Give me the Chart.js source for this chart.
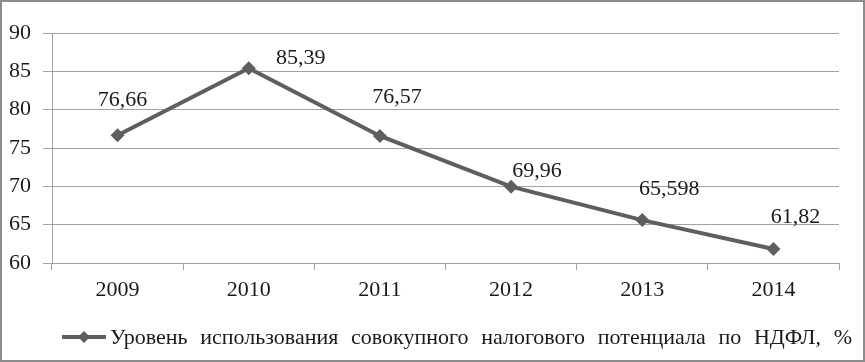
<!DOCTYPE html>
<html>
<head>
<meta charset="utf-8">
<script src="https://cdn.jsdelivr.net/npm/chart.js@4.4.1/dist/chart.umd.min.js"></script>
<style>
  html, body { margin: 0; padding: 0; background: #fff; }
  #wrap { width: 865px; height: 362px; position: relative; }
</style>
</head>
<body>
<div id="wrap"><canvas id="chart" width="865" height="362"></canvas></div>
<script>
// ── Data ────────────────────────────────────────────────────
const YEARS  = ['2009', '2010', '2011', '2012', '2013', '2014'];
const VALUES = [76.66, 85.39, 76.57, 69.96, 65.598, 61.82];
const LABELS = ['76,66', '85,39', '76,57', '69,96', '65,598', '61,82'];
const SERIES_NAME = 'Уровень использования совокупного налогового потенциала по НДФЛ, %';

const FONT = "'Liberation Serif', 'Times New Roman', serif";
const LINE_COLOR = '#5e5e5e';
const GRID_COLOR = '#a3a3a3';

// label offsets from each point (manually placed in the original)
const LABEL_OFFSETS = [[5, -35], [52, -10], [17, -39], [26, -15], [27, -31], [22, -32]];

const valueLabels = {
    id: 'valueLabels',
    afterDatasetsDraw(chart) {
        const ctx = chart.ctx;
        const meta = chart.getDatasetMeta(0);
        ctx.save();
        ctx.font = '22px ' + FONT;
        ctx.fillStyle = '#1a1a1a';
        ctx.textAlign = 'center';
        ctx.textBaseline = 'middle';
        meta.data.forEach((pt, i) => {
            const off = LABEL_OFFSETS[i] || [0, -20];
            ctx.fillText(LABELS[i], pt.x + off[0], pt.y + off[1]);
        });
        ctx.restore();
    }
};

const frameAndLegend = {
    id: 'frameAndLegend',
    afterDraw(chart) {
        const ctx = chart.ctx;
        ctx.save();
        // outer frame
        ctx.strokeStyle = '#8c8c8c';
        ctx.lineWidth = 2;
        ctx.strokeRect(1, 1, chart.width - 2, chart.height - 2);

        // legend: line with diamond, then text
        const y = 337;
        ctx.strokeStyle = LINE_COLOR;
        ctx.lineWidth = 4;
        ctx.beginPath();
        ctx.moveTo(62, y);
        ctx.lineTo(106, y);
        ctx.stroke();
        ctx.fillStyle = LINE_COLOR;
        ctx.beginPath();
        ctx.moveTo(84, y - 6);
        ctx.lineTo(90, y);
        ctx.lineTo(84, y + 6);
        ctx.lineTo(78, y);
        ctx.closePath();
        ctx.fill();

        ctx.font = '22px ' + FONT;
        ctx.fillStyle = '#1a1a1a';
        ctx.textAlign = 'left';
        ctx.textBaseline = 'middle';
        const x0 = 110, x1 = 852;
        const words = SERIES_NAME.split(' ');
        const wordsW = words.reduce((s, w) => s + ctx.measureText(w).width, 0);
        const gap = (x1 - x0 - wordsW) / (words.length - 1);
        let x = x0;
        words.forEach(w => {
            ctx.fillText(w, x, y + 1);
            x += ctx.measureText(w).width + gap;
        });
        ctx.restore();
    }
};

new Chart(document.getElementById('chart'), {
    type: 'line',
    data: {
        labels: YEARS,
        datasets: [{
            label: SERIES_NAME,
            data: VALUES,
            borderColor: LINE_COLOR,
            backgroundColor: LINE_COLOR,
            borderWidth: 4,
            tension: 0,
            pointStyle: 'rectRot',
            pointRadius: 7,
            pointHoverRadius: 7,
            pointBorderWidth: 0,
        }],
    },
    options: {
        responsive: false,
        animation: false,
        events: [],
        layout: { padding: { left: 0, top: 33, right: 26, bottom: 50 } },
        plugins: {
            legend: { display: false },
            tooltip: { enabled: false },
        },
        scales: {
            x: {
                offset: true,
                grid: {
                    offset: true,
                    drawOnChartArea: false,
                    drawTicks: true,
                    tickLength: 7,
                    color: GRID_COLOR,
                },
                border: { display: true, color: GRID_COLOR, width: 1 },
                ticks: {
                    color: '#1a1a1a',
                    font: { family: FONT, size: 22 },
                    padding: 7,
                    maxRotation: 0,
                },
                afterFit(scale) { scale.height = 49; },
            },
            y: {
                min: 60,
                max: 90,
                ticks: {
                    stepSize: 5,
                    color: '#1a1a1a',
                    font: { family: FONT, size: 22 },
                    padding: 12,
                },
                grid: {
                    color: GRID_COLOR,
                    tickLength: 9,
                },
                border: { display: true, color: GRID_COLOR, width: 1 },
                afterFit(scale) { scale.width = 52; },
            },
        },
    },
    plugins: [valueLabels, frameAndLegend],
});
</script>
</body>
</html>
